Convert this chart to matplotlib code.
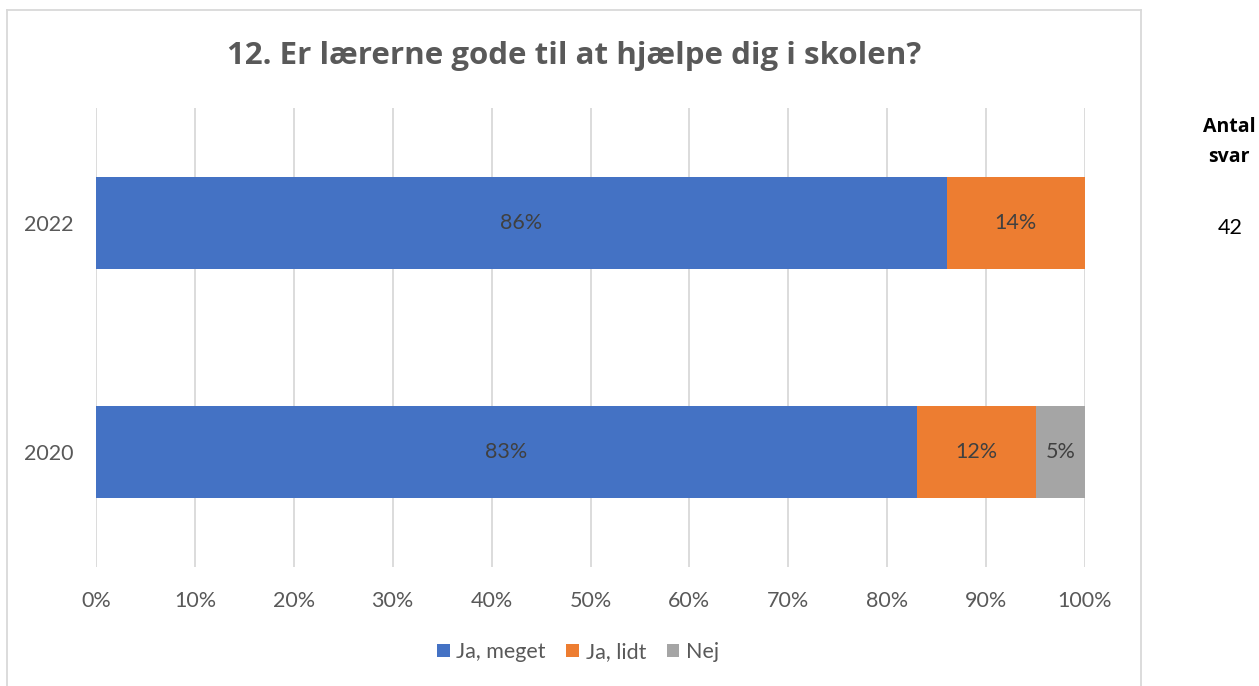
import matplotlib
matplotlib.use("Agg")
import matplotlib.pyplot as plt
from matplotlib.lines import Line2D
from matplotlib.patches import Patch

plt.rcParams['font.family'] = ['Lato', 'DejaVu Sans']

years = ["2020", "2022"]
series_names = ["Ja, meget", "Ja, lidt", "Nej"]
ja_meget = [83, 86]
ja_lidt = [12, 14]
nej = [5, 0]
colors = ["#4472C4", "#ED7D31", "#A5A5A5"]
antal_svar = ["", "42"]
title = "12. Er lærerne gode til at hjælpe dig i skolen?"
xticks = list(range(0, 101, 10))

W, H = 1259, 686
fig = plt.figure(figsize=(W / 100, H / 100), dpi=100)
ax = fig.add_axes([96 / W, 1 - 567 / H, (1085 - 96) / W, (567 - 108) / H])

txt = "#595959"
fs = 15.5
left = [0, 0]
for vals, col, name in zip([ja_meget, ja_lidt, nej], colors, series_names):
    ax.barh(range(len(years)), vals, left=left, height=0.4, color=col, label=name, zorder=3)
    for i, (v, l) in enumerate(zip(vals, left)):
        if v > 0:
            ax.text(l + v / 2, i, f"{v}%", ha="center", va="center", color="#404040", fontsize=fs, zorder=4)
    left = [a + b for a, b in zip(left, vals)]

ax.set_xlim(0, 100)
ax.set_ylim(-0.5, 1.5)
ax.set_xticks(xticks)
ax.set_xticklabels([f"{t}%" for t in xticks], color=txt, fontsize=fs)
ax.set_yticks(range(len(years)))
ax.set_yticklabels(years, color=txt, fontsize=fs)
ax.tick_params(axis="both", length=0)
ax.tick_params(axis="x", pad=17)
ax.tick_params(axis="y", pad=16.5)
ax.grid(axis="x", color="#D9D9D9", linewidth=1.3, zorder=0)
for s in ax.spines.values():
    s.set_visible(False)

fig.text(574 / W, 1 - 56 / H, title, ha="center", va="center", fontsize=22.5, fontweight="bold",
         color=txt, family=['Open Sans', 'DejaVu Sans'])

handles = [Patch(facecolor=c, label=n) for c, n in zip(colors, series_names)]
fig.legend(handles=handles, loc="center", bbox_to_anchor=(578 / W, 1 - 652 / H), ncol=3,
           frameon=False, fontsize=fs, labelcolor=txt, handlelength=0.6, handleheight=0.6,
           handletextpad=0.3, columnspacing=0.95)

# frame
fc = "#D9D9D9"
fig.add_artist(Line2D([7 / W, 7 / W], [0, 1 - 10 / H], color=fc, lw=1.3))
fig.add_artist(Line2D([1141 / W, 1141 / W], [0, 1 - 10 / H], color=fc, lw=1.3))
fig.add_artist(Line2D([7 / W, 1141 / W], [1 - 10 / H, 1 - 10 / H], color=fc, lw=1.3))

bf = ['Open Sans', 'DejaVu Sans']
fig.text(1229 / W, 1 - 127 / H, "Antal", ha="center", va="center", fontsize=14, fontweight="bold",
         color="black", family=bf)
fig.text(1229 / W, 1 - 157 / H, "svar", ha="center", va="center", fontsize=14, fontweight="bold",
         color="black", family=bf)
for i, s in enumerate(antal_svar):
    if s:
        y_disp = ax.transData.transform((0, i))[1]
        fig.text(1230 / W, (y_disp - 5) / H, s, ha="center", va="center", fontsize=fs, color="black")

fig.savefig("out.png", dpi=100)
